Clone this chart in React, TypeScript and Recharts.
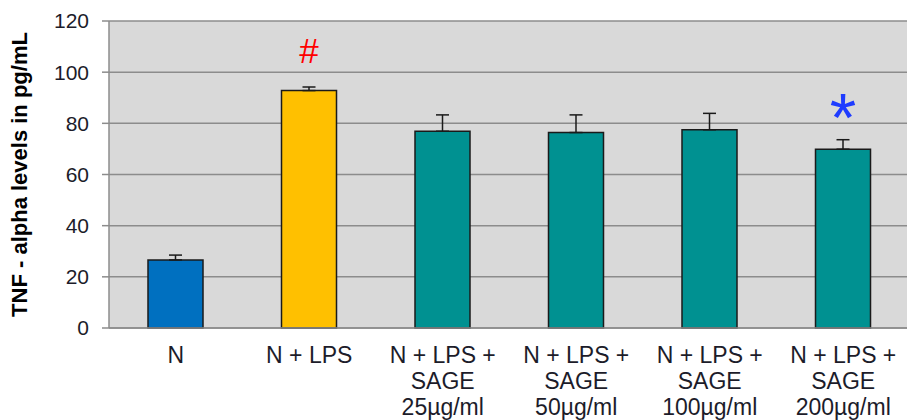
import { Bar, BarChart, CartesianGrid, Cell, ErrorBar, LabelList, XAxis, YAxis } from "recharts";

// groups and measured TNF-alpha levels (pg/mL), with upper SEM
const groups = [
  "N",
  "N + LPS",
  "N + LPS +\nSAGE\n25µg/ml",
  "N + LPS +\nSAGE\n50µg/ml",
  "N + LPS +\nSAGE\n100µg/ml",
  "N + LPS +\nSAGE\n200µg/ml",
];
const tnfValues = [26.6, 92.8, 76.9, 76.4, 77.5, 69.9];
const tnfErrors = [1.9, 1.4, 6.4, 6.9, 6.4, 3.7];
const significance = ["", "#", "", "", "", "*"];
const barColors = ["#0070c0", "#ffc000", "#009191", "#009191", "#009191", "#009191"];
const yTicks = [0, 20, 40, 60, 80, 100, 120];

const data = groups.map((name, i) => ({
  name,
  value: tnfValues[i],
  err: [0, tnfErrors[i]],
  mark: significance[i],
}));

const FONT = "'Liberation Sans', Arial, sans-serif";

const GroupTick = ({ x, y, payload }: any) => {
  const lines = String(payload.value).split("\n");
  return (
    <text x={x} y={y} textAnchor="middle" fontFamily={FONT} fontSize={23} fill="#1c1c2a">
      {lines.map((line, i) => (
        <tspan key={i} x={x} dy={i === 0 ? 27 : 26}>
          {line}
        </tspan>
      ))}
    </text>
  );
};

const MarkLabel = ({ x, y, width, value }: any) => {
  if (!value) return null;
  const cx = x + width / 2;
  if (value === "#") {
    return (
      <text x={cx} y={y - 28} textAnchor="middle" fontFamily={FONT} fontSize={35} fill="#ff0000">
        #
      </text>
    );
  }
  return (
    <text x={cx} y={y - 8} textAnchor="middle" fontFamily={FONT} fontSize={68} fill="#1f3cff">
      {value}
    </text>
  );
};

export default function App() {
  return (
    <div style={{ position: "fixed", left: 0, top: 0, width: 907, height: 420, overflow: "hidden", background: "#fff" }}>
      <BarChart
        width={925}
        height={420}
        data={data}
        barSize={55}
        margin={{ top: 21, right: 15, bottom: 0, left: 0 }}
      >
        <CartesianGrid vertical={false} stroke="#8c8c8c" strokeWidth={1.5} fill="#d9d9d9" />
        <XAxis
          dataKey="name"
          interval={0}
          height={92}
          axisLine={{ stroke: "#8c8c8c", strokeWidth: 1.5 }}
          tickLine={false}
          tick={<GroupTick />}
        />
        <XAxis
          xAxisId="edges"
          type="number"
          domain={[0, 6]}
          ticks={[0, 1, 2, 3, 4, 5, 6]}
          height={0}
          axisLine={false}
          tick={false}
          tickSize={7}
          tickLine={{ stroke: "#8c8c8c", strokeWidth: 1.5 }}
        />
        <YAxis
          width={109}
          domain={[0, 120]}
          ticks={yTicks}
          tickSize={7}
          tickMargin={13}
          axisLine={{ stroke: "#8c8c8c", strokeWidth: 1.5 }}
          tickLine={{ stroke: "#8c8c8c", strokeWidth: 1.5 }}
          tick={{ fontFamily: FONT, fontSize: 21, fill: "#1c1c2a" }}
          label={{
            value: "TNF - alpha levels in pg/mL",
            angle: -90,
            position: "insideLeft",
            dx: 14,
            style: { fontFamily: FONT, fontSize: 22, fontWeight: 700, fill: "#000", textAnchor: "middle" },
          }}
        />
        <Bar dataKey="value" stroke="#1a1a1a" strokeWidth={1.5} isAnimationActive={false}>
          {data.map((d, i) => (
            <Cell key={d.name} fill={barColors[i]} />
          ))}
          <ErrorBar dataKey="err" width={6.5} stroke="#1a1a1a" strokeWidth={1.5} direction="y" />
          <LabelList dataKey="mark" content={<MarkLabel />} />
        </Bar>
      </BarChart>
    </div>
  );
}
